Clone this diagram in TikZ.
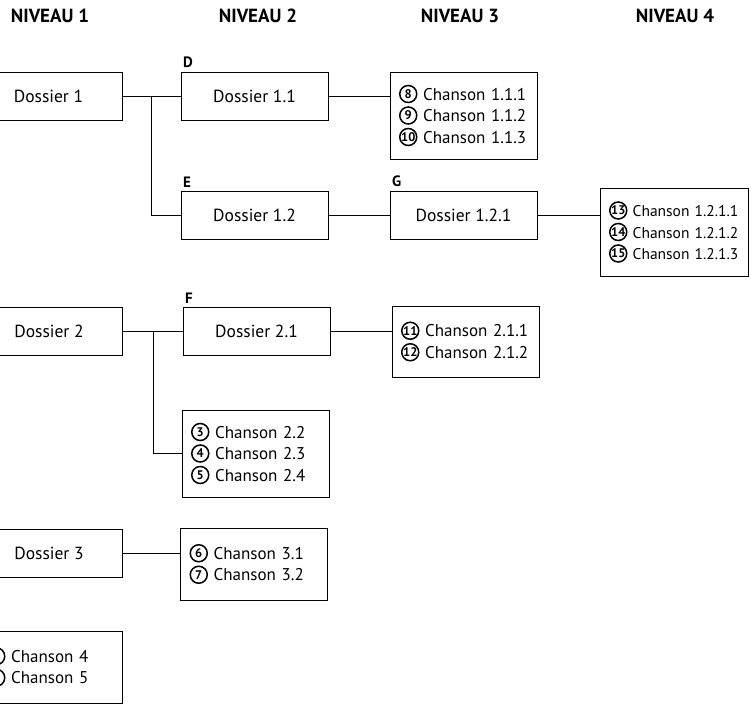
\documentclass[tikz,border=0pt]{standalone}
\usepackage{fontspec}
\setmainfont{PT Sans}
\usetikzlibrary{positioning}

\tikzset{
  numrond/.style={draw, circle, line width=1.5pt, minimum size=17pt, inner sep=0pt,
    font=\fontsize{12.5}{12.5}\selectfont\bfseries},
}
\newcommand{\numrond}[1]{\tikz[baseline={([yshift=-6pt]n.center)}]\node[numrond](n){#1};}

\begin{document}
\begin{tikzpicture}[
    x=1pt, y=-1pt,
    every path/.style={line width=0.9pt},
    dossier/.style={draw, line width=0.9pt, minimum width=147pt, minimum height=48pt,
      inner sep=0pt, font=\fontsize{17.5}{21}\selectfont},
    liste/.style={draw, line width=0.9pt, inner xsep=9pt, inner ysep=0pt, text width=129pt,
      align=left, font=\fontsize{17}{21.5}\selectfont},
    niveau/.style={font=\fontsize{19}{22}\selectfont\bfseries},
    lettre/.style={anchor=south west, inner sep=0pt, font=\fontsize{15}{15}\selectfont\bfseries},
  ]
    \useasboundingbox (0,0) rectangle (751,706);

    % === column headings ===
    \foreach \x/\n in {50/1, 258/2, 460/3, 675/4} {
      \node[niveau] (niv\n) at (\x, 16) {NIVEAU \n};
    }

    % === Dossier 1 ===
    \node[dossier] (d1) at (48.5, 96) {Dossier 1};
    \node[dossier] (d11) at (254.5, 96) {Dossier 1.1};
    \node[dossier] (d12) at (254.5, 215) {Dossier 1.2};
    \node[liste, minimum height=87pt] (c11) at (463.5, 115.5)
      {\numrond{8}~Chanson 1.1.1\\ \numrond{9}~Chanson 1.1.2\\ \numrond{10}~Chanson 1.1.3};
    \node[dossier] (d121) at (463.5, 215) {Dossier 1.2.1};
    \node[liste, text width=130pt, minimum height=88pt, font=\fontsize{15.5}{21.5}\selectfont]
      (c121) at (674, 232)
      {\numrond{13}~Chanson 1.2.1.1\\ \numrond{14}~Chanson 1.2.1.2\\ \numrond{15}~Chanson 1.2.1.3};

    % --- letters above the boxes ---
    \node[lettre] (lD) at ([xshift=2pt, yshift=3pt]d11.north west) {D};
    \node[lettre] (lE) at ([xshift=2pt, yshift=3pt]d12.north west) {E};
    \node[lettre] (lG) at ([xshift=2pt, yshift=3pt]d121.north west) {G};

    % --- connectors ---
    \coordinate (j1) at (151, 96);
    \draw (d1.east) -- (d11.west);
    \draw (j1) |- (d12.west);
    \draw (d11.east) -- (d11.east -| c11.west);
    \draw (d12.east) -- (d121.west);
    \draw (d121.east) -- (d121.east -| c121.west);

    % === Dossier 2 ===
    \node[dossier] (d2) at (49, 331) {Dossier 2};
    \node[dossier] (d21) at (256.5, 331) {Dossier 2.1};
    \node[liste, minimum height=71pt] (c21) at (465.5, 341.5)
      {\numrond{11}~Chanson 2.1.1\\ \numrond{12}~Chanson 2.1.2};
    \node[liste, minimum height=87pt] (c2) at (255.5, 453.5)
      {\numrond{3}~Chanson 2.2\\ \numrond{4}~Chanson 2.3\\ \numrond{5}~Chanson 2.4};
    \node[lettre] (lF) at ([xshift=2pt, yshift=3pt]d21.north west) {F};

    \coordinate (j2) at (153, 331);
    \draw (d2.east) -- (d21.west);
    \draw (j2) |- (c2.west);
    \draw (d21.east) -- (d21.east -| c21.west);

    % === Dossier 3 ===
    \node[dossier] (d3) at (49, 553) {Dossier 3};
    \node[liste, minimum height=72pt] (c3) at (254, 564)
      {\numrond{6}~Chanson 3.1\\ \numrond{7}~Chanson 3.2};
    \draw (d3.east) -- (d3.east -| c3.west);

    % === songs at the root ===
    \node[liste, text width=126pt, minimum height=72pt] (c0) at (50, 667)
      {\numrond{1}~Chanson 4\\ \numrond{2}~Chanson 5};
\end{tikzpicture}
\end{document}
